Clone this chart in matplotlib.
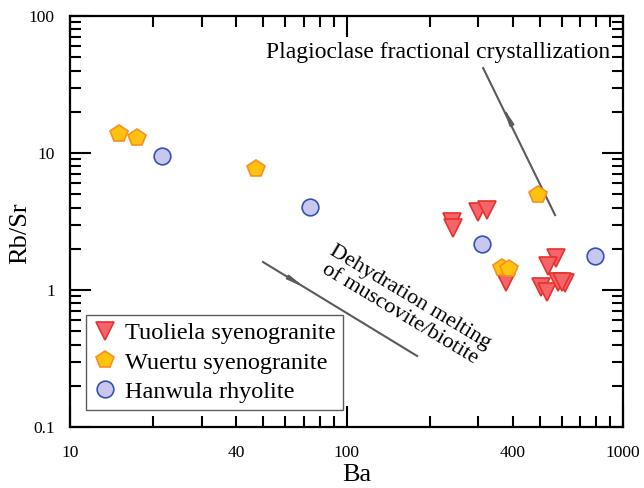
import matplotlib
matplotlib.use('Agg')
import matplotlib.pyplot as plt
import numpy as np
from matplotlib.ticker import FixedLocator, FuncFormatter, NullFormatter

plt.rcParams['font.family'] = ['Liberation Serif', 'DejaVu Serif']

# Tuoliela syenogranite (Ba, Rb/Sr)
tuo_ba   = [241, 243, 299, 322, 378, 573, 535, 505, 531, 582, 617, 600]
tuo_rbsr = [3.13, 2.84, 3.71, 3.84, 1.14, 1.71, 1.50, 1.05, 0.97, 1.14, 1.12, 1.15]

# Wuertu syenogranite
wu_ba   = [15.0, 17.5, 47.1, 493, 365, 387]
wu_rbsr = [13.8, 12.9, 7.64, 4.93, 1.45, 1.42]

# Hanwula rhyolite
han_ba   = [21.5, 73.8, 309, 792]
han_rbsr = [9.5, 4.03, 2.17, 1.77]

# trend lines: start, end, arrow tip
plag_line  = [(312, 41.7), (568, 3.52)]
plag_tip   = (368, 21.7)
dehyd_line = [(49.9, 1.60), (180, 0.33)]
dehyd_tip  = (70.8, 1.04)

xmajor = [10, 100, 1000]
xminor = [20, 30, 40, 50, 60, 70, 80, 90, 200, 300, 400, 500, 600, 700, 800, 900]
xminor_labels = {40: '40', 400: '400'}
ymajor = [0.1, 1, 10, 100]
ymajor_labels = ['0.1', '1', '10', '100']

fig = plt.figure(figsize=(6.44, 4.88), dpi=100)
ax = fig.add_axes([0.1087, 0.125, 0.8587, 0.8422])
ax.set_xscale('log')
ax.set_yscale('log')
ax.set_xlim(10, 1000)
ax.set_ylim(0.1, 100)

line_col = '#5a5a5a'


def trend(line, tip, toward_end):
    xs = [p[0] for p in line]
    ys = [p[1] for p in line]
    ax.plot(xs, ys, color=line_col, lw=1.5, zorder=2)
    # direction in log space
    lx = np.log10(xs)
    ly = np.log10(ys)
    d = np.array([lx[1] - lx[0], ly[1] - ly[0]])
    d = d / np.hypot(*d)
    if not toward_end:
        d = -d
    back = (10 ** (np.log10(tip[0]) - 0.06 * d[0]), 10 ** (np.log10(tip[1]) - 0.06 * d[1]))
    ax.annotate('', xy=tip, xytext=back,
                arrowprops=dict(arrowstyle='-|>,head_length=0.9,head_width=0.12',
                                color=line_col, lw=1.5, shrinkA=0, shrinkB=0),
                zorder=2)


trend(plag_line, plag_tip, toward_end=False)
trend(dehyd_line, dehyd_tip, toward_end=True)

ax.plot(tuo_ba, tuo_rbsr, 'v', ms=12.5, mfc='#f5636b', mec='#e5322b', mew=1.2,
        ls='none', label='Tuoliela syenogranite', zorder=3)
ax.plot(wu_ba, wu_rbsr, 'p', ms=13, mfc='#ffc20e', mec='#f7901e', mew=1.2,
        ls='none', label='Wuertu syenogranite', zorder=3)
ax.plot(han_ba, han_rbsr, 'o', ms=12, mfc='#c8c8ee', mec='#3352b8', mew=1.2,
        ls='none', label='Hanwula rhyolite', zorder=3)

ax.text(0.977, 0.912, 'Plagioclase fractional crystallization', transform=ax.transAxes,
        ha='right', va='center', fontsize=17)
ax.text(163, 0.77, 'Dehydration melting\nof muscovite/biotite', ha='center', va='center',
        rotation=-31, fontsize=16, linespacing=1.0, rotation_mode='anchor')

# ticks
ax.xaxis.set_major_locator(FixedLocator(xmajor))
ax.xaxis.set_minor_locator(FixedLocator(xminor))
ax.xaxis.set_major_formatter(FuncFormatter(lambda v, p: '%d' % v))
ax.xaxis.set_minor_formatter(FuncFormatter(lambda v, p: xminor_labels.get(int(round(v)), '')))
ax.yaxis.set_major_locator(FixedLocator(ymajor))
ax.yaxis.set_major_formatter(FuncFormatter(lambda v, p: ymajor_labels[ymajor.index(v)] if v in ymajor else ''))
ax.yaxis.set_minor_locator(FixedLocator([m * 10.0 ** e for e in (-1, 0, 1) for m in range(2, 10)]))
ax.yaxis.set_minor_formatter(NullFormatter())

ax.tick_params(which='both', direction='in', top=True, right=True, width=1.5, labelsize=12.5)
ax.tick_params(which='major', length=15)
ax.tick_params(which='minor', length=8)
ax.tick_params(axis='x', which='both', pad=13)
ax.tick_params(axis='y', which='both', pad=11)
for s in ax.spines.values():
    s.set_linewidth(1.6)

ax.set_xlabel('Ba', fontsize=19)
ax.set_ylabel('Rb/Sr', fontsize=19)
ax.xaxis.set_label_coords(0.519, -0.09)
ax.yaxis.set_label_coords(-0.07, 0.472)

leg = ax.legend(loc='lower left', bbox_to_anchor=(0.029, 0.041), borderaxespad=0,
                fontsize=17.5, frameon=True, fancybox=False, handletextpad=0.3,
                handlelength=1.0, labelspacing=0.3, borderpad=0.3)
leg.get_frame().set_edgecolor('#333333')
leg.get_frame().set_linewidth(1.0)

plt.savefig('out.png', dpi=100)
